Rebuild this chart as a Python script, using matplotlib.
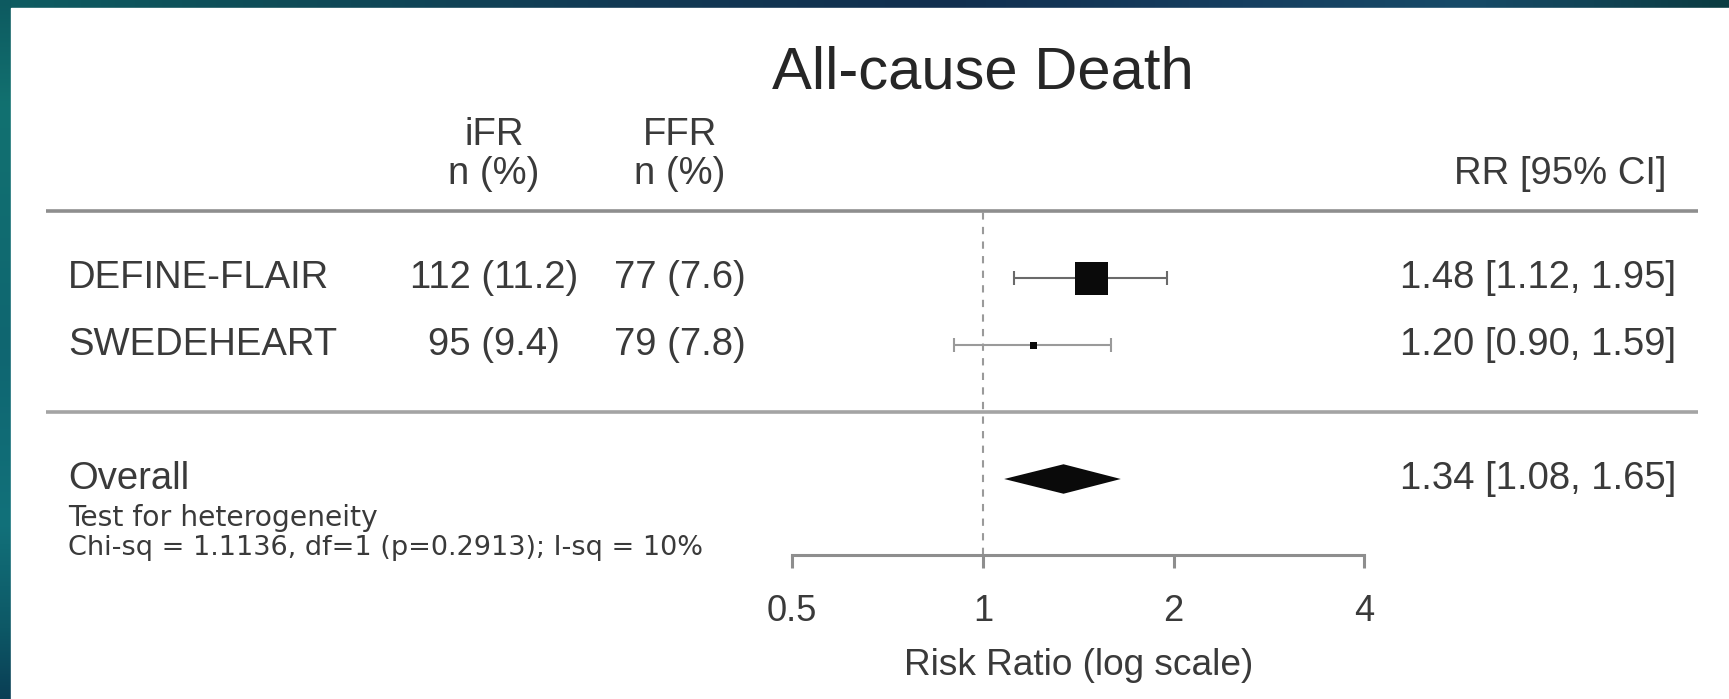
import numpy as np
import matplotlib
matplotlib.use("Agg")
import matplotlib.pyplot as plt
from matplotlib.patches import Rectangle, Polygon
from matplotlib.colors import LinearSegmentedColormap
from matplotlib.transforms import blended_transform_factory, Affine2D

# ---------------- data ----------------
title = "All-cause Death"
studies = ["DEFINE-FLAIR", "SWEDEHEART"]
ifr_n = ["112 (11.2)", "95 (9.4)"]
ffr_n = ["77 (7.6)", "79 (7.8)"]
rr = [1.48, 1.20]
ci_lo = [1.12, 0.90]
ci_hi = [1.95, 1.59]
overall_label = "Overall"
overall_rr = 1.34
overall_lo = 1.08
overall_hi = 1.65
het_line1 = "Test for heterogeneity"
het_line2 = "Chi-sq = 1.1136, df=1 (p=0.2913); I-sq = 10%"
col_headers = ["iFR", "FFR"]
sub_header = "n (%)"
rr_header = "RR [95% CI]"
xticks = [0.5, 1, 2, 4]
xtick_labels = ["0.5", "1", "2", "4"]
xlabel = "Risk Ratio (log scale)"

# ---------------- style ----------------
plt.rcParams["font.family"] = ["Liberation Sans", "DejaVu Sans"]
W, H, DPI = 1729, 699, 100
FS = 27.5
TXT = "#3a3a3a"
LINE = "#8e8e8e"
marker_px = [33, 7]

fig = plt.figure(figsize=(W / DPI, H / DPI), dpi=DPI)

# background frame (gradient strips)
bg = fig.add_axes([0, 0, 1, 1])
bg.axis("off")
top_cmap = LinearSegmentedColormap.from_list(
    "top", [(0, "#0e5d62"), (0.15, "#0f4d58"), (0.35, "#113a54"), (0.55, "#112f4f"),
            (0.72, "#163f60"), (0.85, "#174a68"), (1.0, "#0b3c42")])
left_cmap = LinearSegmentedColormap.from_list(
    "left", [(0, "#0d5a60"), (0.15, "#127170"), (0.5, "#0f6671"), (0.75, "#12717a"),
             (0.9, "#0d5866"), (1.0, "#0a3e55")])
grad = np.linspace(0, 1, 256)
bg.imshow(grad[None, :], cmap=top_cmap, extent=[0, W, 8, 0], aspect="auto")
bg.imshow(grad[:, None], cmap=left_cmap, extent=[0, 11, H, 0], aspect="auto")
bg.add_patch(Rectangle((11, 8), W - 11, H - 8, color="white", zorder=3))
bg.set_xlim(0, W)
bg.set_ylim(H, 0)

# main forest axes, covering the figure; x is the log risk-ratio scale
ax = fig.add_axes([0, 0, 1, 1])
ax.set_facecolor("none")
ax.set_xscale("log", base=2)
px1, px_per_oct = 983.0, 190.7
ax.set_xlim(2 ** (-px1 / px_per_oct), 2 ** ((W - px1) / px_per_oct))
ax.set_ylim(1 - (H - 345) / 67.0, 1 + 345 / 67.0)

k = len(studies)
rows = np.arange(k, 0, -1)
overall_row = -1
axis_y = -2.13

for s in ["top", "left", "right"]:
    ax.spines[s].set_visible(False)
ax.spines["bottom"].set_position(("data", axis_y))
ax.spines["bottom"].set_bounds(xticks[0], xticks[-1])
ax.spines["bottom"].set_color(LINE)
ax.spines["bottom"].set_linewidth(2.2)
ax.set_xticks(xticks)
ax.set_xticklabels(xtick_labels)
ax.xaxis.set_minor_locator(matplotlib.ticker.NullLocator())
ax.tick_params(axis="x", direction="out", length=9.5, width=2.2, color=LINE,
               labelsize=FS * 0.95, labelcolor=TXT, pad=19)
ax.set_yticks([])

# x in figure pixels, y in data rows (for text columns / separators)
tpx = blended_transform_factory(Affine2D().scale(1.0 / W, 1.0) + fig.transFigure, ax.transData)

# separators
ax.plot([46, 1698], [k + 1, k + 1], color=LINE, lw=2.6, transform=tpx, solid_capstyle="butt")
ax.plot([46, 1698], [0, 0], color="#a4a4a4", lw=2.6, transform=tpx, solid_capstyle="butt")

# reference line
ax.plot([1, 1], [axis_y, k + 1], color="#9a9a9a", lw=1.5, ls=(0, (3.5, 3.5)))

# study CIs and squares
ci_cols = ["#6a6a6a", "#9a9a9a"]
for r, lo, hi, c in zip(rows, ci_lo, ci_hi, ci_cols):
    ax.hlines(r, lo, hi, color=c, lw=1.5)
    ax.vlines([lo, hi], r - 0.11, r + 0.11, color=c, lw=1.5)
for r, v, m in zip(rows, rr, marker_px):
    ax.plot([v], [r], marker="s", ms=m * 72 / DPI, color="#0a0a0a", mew=0, ls="none")

# overall diamond
dh = 0.22
ax.add_patch(Polygon([(overall_lo, overall_row), (overall_rr, overall_row + dh),
                      (overall_hi, overall_row), (overall_rr, overall_row - dh)],
                     closed=True, color="#0a0a0a", lw=0))

# text columns
ax.text(1, 5.06, title, ha="center", va="center", fontsize=43, color="#262626")
col_x = [494, 680]
for cx, hname in zip(col_x, col_headers):
    ax.text(cx, 4.13, hname, ha="center", va="center", fontsize=FS, color=TXT, transform=tpx)
    ax.text(cx, 3.55, sub_header, ha="center", va="center", fontsize=FS, color=TXT, transform=tpx)
ax.text(1667, 3.55, rr_header, ha="right", va="center", fontsize=FS, color=TXT, transform=tpx)

for r, name, a, b, v, lo, hi in zip(rows, studies, ifr_n, ffr_n, rr, ci_lo, ci_hi):
    ax.text(68, r, name, ha="left", va="center", fontsize=FS, color=TXT, transform=tpx)
    ax.text(col_x[0], r, a, ha="center", va="center", fontsize=FS, color=TXT, transform=tpx)
    ax.text(col_x[1], r, b, ha="center", va="center", fontsize=FS, color=TXT, transform=tpx)
    ax.text(1676, r, f"{v:.2f} [{lo:.2f}, {hi:.2f}]", ha="right", va="center",
            fontsize=FS, color=TXT, transform=tpx)

ax.text(68, overall_row, overall_label, ha="left", va="center", fontsize=FS, color=TXT, transform=tpx)
ax.text(1676, overall_row, f"{overall_rr:.2f} [{overall_lo:.2f}, {overall_hi:.2f}]",
        ha="right", va="center", fontsize=FS, color=TXT, transform=tpx)
ax.text(68, -1.58, het_line1, ha="left", va="center", fontsize=20.3, color=TXT,
        transform=tpx, family=["DejaVu Sans"])
ax.text(68, -2.03, het_line2, ha="left", va="center", fontsize=19.5, color=TXT,
        transform=tpx, family=["DejaVu Sans"])

ax.text(np.sqrt(xticks[0] * xticks[-1]), -3.79, xlabel, ha="center", va="center",
        fontsize=FS * 0.97, color=TXT)

fig.savefig("out.png", dpi=DPI)
